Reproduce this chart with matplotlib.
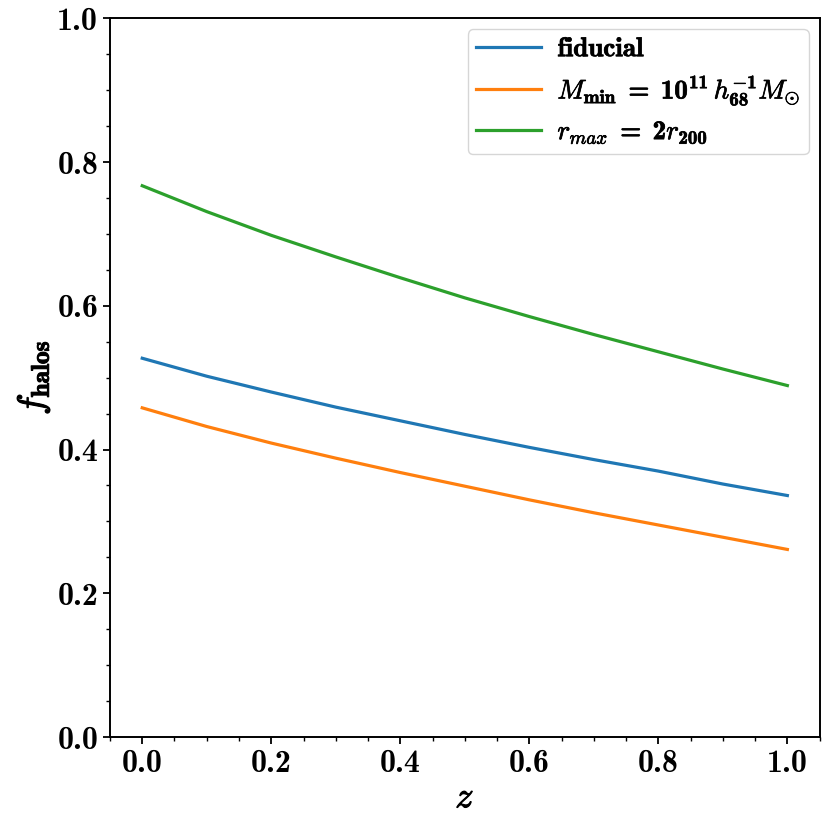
import matplotlib
matplotlib.use('Agg')
import matplotlib.pyplot as plt
import matplotlib.patheffects as pe
from matplotlib.ticker import MultipleLocator

z = [0.0, 0.1, 0.2, 0.3, 0.4, 0.5, 0.6, 0.7, 0.8, 0.9, 1.0]
f_fiducial = [0.527, 0.502, 0.480, 0.459, 0.440, 0.421, 0.403, 0.386, 0.370, 0.352, 0.336]
f_mmin = [0.458, 0.432, 0.409, 0.388, 0.368, 0.349, 0.330, 0.312, 0.295, 0.278, 0.261]
f_rmax = [0.767, 0.731, 0.698, 0.668, 0.639, 0.611, 0.585, 0.560, 0.536, 0.512, 0.489]

labels = [r'fiducial',
          r'$M_{\rm min} \;=\; 10^{11}\, h_{68}^{-1} M_{\odot}$',
          r'$r_{max} \;=\; 2 r_{200}$']

plt.rcParams['font.family'] = 'cmb10'
plt.rcParams['axes.unicode_minus'] = False
plt.rcParams['mathtext.fontset'] = 'custom'
plt.rcParams['mathtext.rm'] = 'cmb10'
plt.rcParams['mathtext.it'] = 'cmmi10'
plt.rcParams['mathtext.bf'] = 'cmb10'

bold = [pe.withStroke(linewidth=0.8, foreground='black')]

fig = plt.figure(figsize=(8.3, 8.3), dpi=100)
ax = fig.add_axes([0.1325, 0.112, 0.855, 0.866])

for vals, lab in zip([f_fiducial, f_mmin, f_rmax], labels):
    ax.plot(z, vals, lw=2.3, label=lab)

ax.set_ylim(0, 1)
ax.set_xlim(-0.05, 1.05)
ax.xaxis.set_major_locator(MultipleLocator(0.2))
ax.xaxis.set_minor_locator(MultipleLocator(0.05))
ax.yaxis.set_major_locator(MultipleLocator(0.2))
ax.yaxis.set_minor_locator(MultipleLocator(0.05))
ax.tick_params(which='major', labelsize=23, width=1.3, length=5)
ax.tick_params(which='minor', width=1.0, length=3)
for s in ax.spines.values():
    s.set_linewidth(1.4)

ax.set_xlabel(r'$z$', fontsize=26, path_effects=bold)
ax.set_ylabel(r'$f_{\rm halos}$', fontsize=26, path_effects=bold)

leg = ax.legend(loc='upper right', fontsize=19.5, handlelength=2.4,
                borderpad=0.3, labelspacing=0.45, handletextpad=0.6,
                borderaxespad=0.4)
for t in leg.get_texts():
    t.set_path_effects([pe.withStroke(linewidth=0.5, foreground='black')])

plt.savefig('out.png', dpi=100)
